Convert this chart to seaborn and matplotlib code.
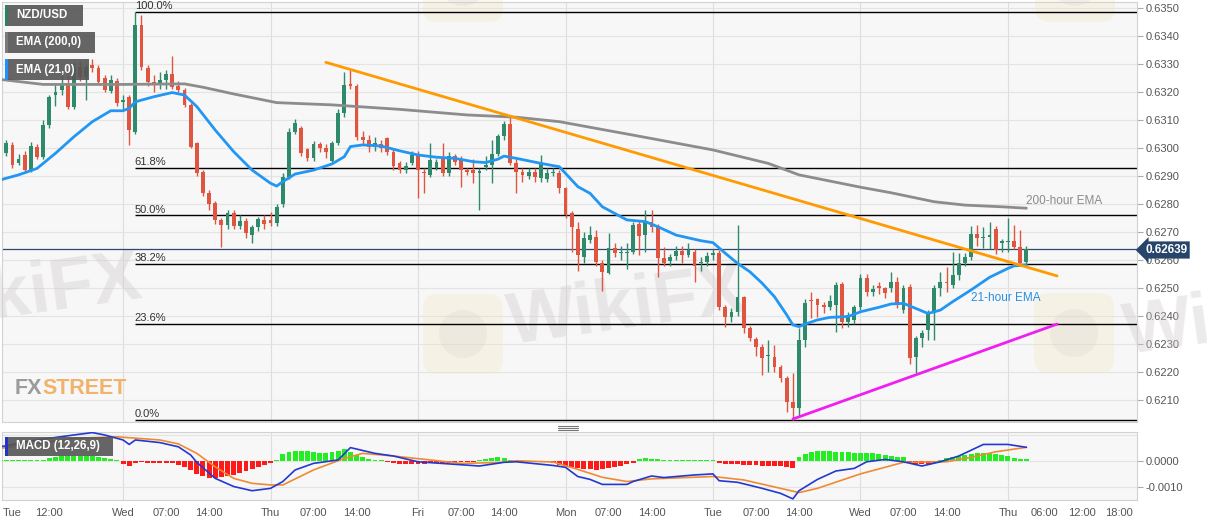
import numpy as np
import pandas as pd
import matplotlib
matplotlib.use("Agg")
import matplotlib.pyplot as plt
import matplotlib.transforms as mtransforms
from matplotlib.patches import Rectangle, FancyBboxPatch, Circle
from matplotlib.lines import Line2D
import seaborn as sns

sns.set_style("white")
plt.rcParams['font.family'] = ['Liberation Sans', 'DejaVu Sans']

W, H = 1207, 526

# prices are read as pips above 0.6200
BASE = 0.6200
PIP = 0.0001

# one bar per hour, 0 = Wed 00:00 (weekend removed)
hours = list(range(-20, 148))

opens = [96.9, 98.1, 101.1, 94.8, 97.5, 92.1, 100.5, 96.9, 108.2, 118.9,
         120.7, 123.1, 114.8, 129.0, 125.5, 129.6, 128.5, 124.9, 120.5, 123.9,
         116.5, 118.3, 105.8, 143.9, 128.5, 123.7, 123.1, 124.3, 126.4, 122.1,
         120.7, 115.4, 101.7, 91.5, 84.0, 80.2, 74.3, 72.5, 76.7, 72.1,
         74.0, 68.9, 71.9, 74.3, 74.3, 73.3, 80.0, 89.8, 105.8, 107.0,
         99.5, 96.3, 101.3, 99.9, 95.5, 101.9, 112.4, 122.9, 122.1, 104.0,
         102.9, 100.5, 101.4, 103.5, 98.7, 94.5, 92.1, 94.5, 97.5, 91.5,
         90.4, 92.7, 96.0, 91.2, 97.1, 96.0, 92.1, 92.1, 91.2, 93.3,
         93.9, 97.9, 104.3, 108.6, 94.8, 91.5, 90.0, 91.5, 89.2, 88.8,
         91.0, 91.2, 85.6, 76.7, 71.0, 61.2, 67.1, 68.1, 59.0, 55.5,
         64.2, 62.6, 62.4, 63.0, 72.9, 68.9, 73.7, 71.9, 60.6, 59.8,
         61.4, 63.3, 61.8, 63.0, 58.8, 59.4, 61.8, 62.6, 43.1, 39.8,
         41.5, 46.7, 35.6, 31.7, 29.0, 25.7, 25.5, 21.9, 17.7, 9.4,
         7.0, 31.4, 45.7, 46.0, 43.9, 43.3, 43.9, 51.4, 38.0, 38.6,
         43.1, 53.5, 48.7, 50.7, 49.9, 49.9, 52.3, 42.1, 50.5, 25.5,
         32.0, 35.0, 41.0, 49.9, 52.3, 51.1, 54.6, 58.8, 61.2, 69.3,
         67.9, 68.3, 71.0, 66.0, 66.5, 66.9, 64.8, 59.4]

highs = [102.5, 103.0, 102.0, 98.0, 99.0, 102.0, 101.5, 110.0, 119.0, 123.0,
         126.0, 126.0, 130.8, 131.0, 130.0, 131.7, 129.5, 126.0, 126.0, 125.0,
         119.0, 119.0, 148.7, 147.5, 129.5, 126.0, 127.0, 128.0, 132.9, 124.0,
         121.5, 116.0, 102.0, 92.0, 85.0, 81.0, 75.0, 78.0, 78.0, 76.0,
         75.0, 72.5, 75.5, 76.0, 77.0, 80.0, 91.0, 107.0, 110.5, 108.0,
         100.0, 102.5, 102.0, 101.5, 102.5, 114.0, 127.3, 127.9, 123.0, 106.0,
         104.5, 104.0, 103.0, 104.0, 100.0, 95.5, 95.0, 99.0, 99.0, 93.0,
         101.9, 96.0, 101.9, 98.5, 98.0, 97.0, 93.0, 96.0, 93.0, 97.0,
         102.9, 105.0, 109.5, 111.2, 96.0, 93.0, 93.0, 93.0, 97.5, 93.0,
         93.0, 92.0, 86.0, 77.5, 73.7, 70.0, 72.0, 70.7, 60.0, 69.8,
         66.0, 65.0, 66.0, 73.5, 74.0, 77.9, 77.9, 73.0, 64.8, 62.0,
         65.0, 65.0, 66.0, 64.0, 61.0, 63.0, 64.0, 63.5, 44.0, 43.0,
         72.5, 47.0, 36.5, 32.5, 30.0, 31.4, 29.6, 22.5, 18.5, 19.7,
         35.6, 46.0, 48.7, 46.5, 45.0, 47.5, 52.0, 52.0, 41.5, 44.0,
         55.0, 55.0, 51.0, 52.0, 50.5, 55.8, 54.0, 51.0, 51.5, 33.0,
         35.0, 42.1, 51.0, 55.8, 57.6, 63.0, 62.4, 62.5, 72.0, 72.5,
         71.9, 73.7, 72.0, 67.4, 74.9, 72.5, 70.7, 65.0]

lows = [96.0, 97.0, 93.0, 94.0, 91.0, 91.5, 96.0, 96.0, 107.0, 115.0,
        119.0, 114.0, 114.0, 124.0, 117.1, 127.0, 123.0, 120.0, 119.5, 115.0,
        114.0, 101.1, 105.0, 128.0, 122.0, 120.0, 121.0, 121.0, 121.0, 120.0,
        114.5, 100.0, 90.0, 83.0, 78.0, 73.0, 64.8, 71.0, 71.0, 71.0,
        68.0, 66.0, 70.5, 71.0, 72.0, 72.0, 79.0, 89.0, 105.0, 97.0,
        95.5, 95.5, 98.5, 96.5, 95.0, 101.0, 111.0, 121.0, 103.0, 101.5,
        98.5, 99.0, 98.5, 97.5, 92.0, 91.0, 91.0, 94.0, 82.0, 84.0,
        89.5, 92.0, 90.0, 90.0, 94.0, 86.2, 90.5, 87.6, 77.9, 92.0,
        87.4, 97.0, 103.0, 94.0, 84.0, 88.0, 89.0, 88.0, 88.0, 88.0,
        90.0, 84.0, 75.0, 63.0, 56.2, 59.0, 66.0, 58.0, 49.0, 55.0,
        61.0, 60.0, 56.7, 62.0, 61.8, 63.0, 70.0, 54.0, 58.0, 58.0,
        60.0, 59.0, 61.0, 52.3, 56.0, 58.0, 60.0, 42.0, 36.2, 38.0,
        40.0, 34.0, 31.0, 25.7, 18.9, 20.1, 20.0, 16.5, 5.8, 2.9,
        4.0, 29.0, 39.2, 39.8, 41.0, 42.0, 34.4, 35.6, 36.0, 37.0,
        42.0, 47.0, 47.0, 48.0, 46.5, 48.5, 42.7, 41.0, 22.9, 19.5,
        29.0, 31.4, 31.4, 47.0, 48.7, 50.0, 53.0, 58.0, 60.0, 65.0,
        64.2, 64.0, 62.0, 63.0, 63.0, 64.0, 58.0, 58.0]

closes = [101.7, 101.7, 93.9, 95.9, 92.1, 100.7, 96.9, 108.2, 118.3, 120.1,
          122.5, 114.8, 129.0, 125.5, 129.0, 128.5, 123.7, 120.7, 124.3, 116.0,
          117.0, 106.4, 143.9, 129.0, 123.7, 123.1, 124.3, 126.4, 121.9, 120.7,
          115.4, 100.5, 91.0, 84.0, 80.0, 74.3, 72.5, 76.7, 72.1, 74.0,
          69.5, 71.9, 74.5, 72.9, 73.3, 78.8, 89.8, 105.8, 108.8, 98.1,
          96.3, 101.4, 99.9, 98.7, 101.9, 112.4, 122.5, 122.1, 104.0, 102.9,
          100.5, 101.7, 99.9, 98.7, 93.4, 92.1, 93.5, 97.5, 92.1, 91.0,
          95.7, 95.1, 91.2, 97.1, 95.1, 92.1, 91.5, 91.0, 91.9, 93.9,
          97.9, 104.3, 108.6, 94.8, 91.5, 90.4, 91.5, 89.8, 94.5, 91.2,
          91.5, 85.6, 76.1, 71.9, 61.8, 67.7, 69.0, 59.4, 55.8, 64.2,
          62.6, 62.9, 63.0, 72.5, 68.6, 74.0, 71.9, 60.6, 59.0, 61.0,
          63.3, 61.8, 63.6, 57.9, 59.2, 61.4, 62.6, 43.1, 39.8, 41.5,
          46.7, 35.6, 32.0, 29.0, 24.9, 26.2, 21.9, 17.7, 9.4, 7.0,
          31.4, 44.8, 45.5, 43.9, 43.3, 45.5, 51.0, 38.0, 40.4, 43.1,
          53.5, 48.7, 49.5, 49.9, 48.1, 52.3, 43.9, 49.9, 24.9, 32.0,
          33.8, 41.0, 49.9, 52.3, 51.7, 54.6, 58.8, 61.2, 69.3, 67.7,
          68.1, 69.0, 63.6, 66.9, 66.9, 64.8, 58.8, 63.9]

# moving averages
ema21_hours = [-20, -17, -14, -11, -8, -5, -2, 0, 1, 2, 5, 8, 10, 12, 15, 18, 21, 24,
               25, 26, 28, 31, 34, 36, 37, 39, 42, 45, 48, 51, 54, 57, 59, 61, 62, 64,
               68, 71, 74, 76, 78, 82, 85, 87, 90, 94, 96, 98, 100, 102, 104, 106, 108,
               109, 110, 111, 113, 115, 118, 120, 123, 125, 127, 129, 131, 133, 135,
               138, 141, 144, 145, 147]
ema21_pips = [88.6, 90.4, 92.7, 98.1, 104.0, 109.4, 113.3, 113.3, 114.2, 116.5, 118.3,
              119.8, 118.9, 114.8, 106.4, 98.7, 92.1, 87.4, 86.4, 88.0, 90.7, 92.1, 94.3,
              96.9, 100.5, 101.1, 100.7, 99.0, 97.5, 96.7, 96.3, 95.1, 94.8, 96.0, 97.1,
              96.3, 94.5, 93.3, 86.2, 83.8, 79.0, 74.3, 73.7, 71.9, 68.9, 66.9, 66.2,
              62.4, 58.8, 55.8, 51.7, 46.9, 40.4, 36.8, 36.2, 37.1, 38.6, 39.5, 39.8,
              41.5, 43.1, 44.3, 44.5, 42.7, 40.9, 42.1, 45.1, 49.3, 53.8, 57.0, 57.9, 58.2]
ema200_hours = [-20, -13, 0, 10, 13, 18, 25, 34, 45, 56, 64, 71, 83, 96, 105, 110,
                120, 125, 132, 137, 143, 147]
ema200_pips = [124.5, 122.7, 122.7, 122.9, 121.7, 119.3, 116.2, 115.4, 113.8, 111.8,
               111.0, 109.4, 104.6, 99.3, 94.5, 90.4, 86.0, 84.0, 80.8, 79.6, 79.0, 78.5]

fib_names = ['100.0%', '61.8%', '50.0%', '38.2%', '23.6%', '0.0%']
fib_pips = [148.7, 93.0, 75.9, 58.6, 37.3, 2.9]
fib_start = 2

res_hours = [33, 152]
res_pips = [130.6, 54.3]
sup_hours = [109, 152]
sup_pips = [3.2, 37.1]
last_price = 0.62639

# MACD (12,26,9), in units of 0.0001
macd_hours = [-20, -14, -8, -5, -3, 0, 1, 2, 6, 9, 11, 12, 15, 18, 21, 24, 26, 28, 31,
              35, 37, 41, 44, 48, 53, 58, 62, 64, 70, 72, 74, 76, 78, 82, 83, 86, 88,
              93, 96, 97, 100, 104, 107, 109, 110, 113, 116, 119, 121, 124, 127, 130,
              133, 136, 140, 144, 147]
macd_vals = [5.4, 8.0, 9.9, 10.8, 9.9, 8.0, 6.3, 8.0, 7.0, 5.4, 2.3, -0.5, -6.6, -9.7,
             -11.3, -10.4, -7.8, -3.4, -0.9, 0.4, 5.1, 2.9, 1.9, -0.3, -1.1, -1.9, -0.5,
             -0.3, -1.7, -2.4, -5.9, -7.0, -8.9, -8.9, -7.8, -5.7, -6.3, -5.3, -4.9,
             -7.5, -8.1, -10.4, -12.3, -14.4, -11.3, -7.0, -3.8, -2.8, -0.3, 0.6, -0.3,
             -1.9, -0.3, 1.9, 6.3, 6.3, 5.2]
signal_hours = [-20, -8, -1, 6, 9, 12, 15, 18, 21, 24, 26, 31, 36, 39, 44, 50, 55, 61,
                64, 70, 74, 78, 82, 86, 96, 101, 110, 113, 120, 127, 134, 138, 142, 147]
signal_vals = [4.8, 8.6, 9.2, 8.0, 6.5, 2.9, -2.2, -6.6, -8.5, -9.1, -9.1, -3.4, 1.0,
               2.9, 1.9, 0.4, -0.9, -0.6, 0.1, -0.4, -3.2, -6.2, -7.8, -6.8, -5.9, -7.2,
               -12.0, -10.4, -4.9, -0.5, -0.3, 1.4, 3.5, 5.2]
hist_vals = [0.3, 0.3, 0.2, 0.2, 0.3, 0.3, 0.4, 0.5,
             1.2, 1.6, 1.8, 1.9, 1.9, 1.9, 1.8, 1.8, 1.6, 1.3,
             0.6, 0.3,
             -1.3, -2.0,
             -0.6, -0.5, -0.6, -0.6, -0.6, -0.7, -0.8,
             -1.5, -2.3, -3.5,
             -4.8, -5.8, -6.3, -6.4, -6.2, -5.8,
             -5.2, -4.6, -3.9, -3.2, -2.4, -1.6,
             -0.6, 0.5,
             2.5, 3.4, 3.8, 3.8, 3.7, 3.4, 3.1, 3.0, 3.3, 3.9, 4.4, 3.5,
             2.2, 1.6, 0.9, 0.5,
             0.2, -0.2,
             -0.8, -1.0, -1.2, -1.2, -1.1, -1.0, -0.9, -0.9, -0.8, -0.7, -0.6, -0.5, -0.4,
             -0.2, 0.2, 0.6, 1.0, 1.4, 1.1,
             0.3, -0.4, -0.5, -0.5, -0.5, -0.5, -0.5,
             -0.8, -1.4, -2.0, -2.4, -2.8, -3.0, -3.2, -3.3, -3.1, -2.8, -2.4, -1.8, -1.3, -0.6,
             0.6, 1.0, 0.9, 0.6,
             0.3, 0.3, 0.3, 0.3, 0.3, 0.3, 0.3, 0.3, 0.3,
             -0.9, -1.0, -1.0, -1.1, -1.4, -1.6, -1.7, -1.8, -1.9, -2.0, -2.0, -2.1, -2.5,
             1.5, 2.6, 3.3, 3.7, 3.8, 3.8, 3.6, 3.4, 3.3, 3.2, 3.2, 3.1, 2.9, 2.6, 2.3, 2.0, 1.7, 1.4,
             -0.6,
             -1.0, -1.1, -1.0, -0.6,
             0.5, 1.0, 1.5, 2.0, 2.4, 2.7, 2.9, 3.0, 2.9, 2.6, 2.2, 1.8, 1.2, 0.8, 0.6]

price_ticks = [0.6210, 0.6220, 0.6230, 0.6240, 0.6250, 0.6260, 0.6270,
               0.6280, 0.6290, 0.6300, 0.6310, 0.6320, 0.6330, 0.6340, 0.6350]
macd_ticks = [-0.0010, 0.0]
day_hours = [0, 24, 48, 72, 96, 120, 144]
time_ticks = [-19.6, -12, 0, 7, 14, 24, 31, 38, 48, 55, 62, 72, 79, 86,
              96, 103, 110, 120, 127, 134, 144, 150, 156, 162]
time_labels = ['Tue', '12:00', 'Wed', '07:00', '14:00', 'Thu', '07:00', '14:00',
               'Fri', '07:00', '14:00', 'Mon', '07:00', '14:00', 'Tue', '07:00',
               '14:00', 'Wed', '07:00', '14:00', 'Thu', '06:00', '12:00', '18:00']

bars = pd.DataFrame({'hour': hours, 'open': opens, 'high': highs,
                     'low': lows, 'close': closes, 'hist': hist_vals})
for col in ['open', 'high', 'low', 'close']:
    bars[col] = BASE + bars[col] * PIP

GREEN = '#2f8a6c'
RED = '#e0553f'
GRID = '#e4e4e4'
TXT = '#555555'

fig = plt.figure(figsize=(W / 100, H / 100), dpi=100)
fig.patch.set_facecolor('white')
# pixel coordinates, origin at top-left
PXT = mtransforms.Affine2D().scale(1 / W, -1 / H).translate(0, 1) + fig.transFigure

ax = fig.add_axes([2 / W, 1 - 422 / H, 1135 / W, 420 / H])
axm = fig.add_axes([2 / W, 1 - 500 / H, 1135 / W, 68 / H], sharex=ax)

for a in (ax, axm):
    a.set_facecolor('#f7f7f7')
    for s in a.spines.values():
        s.set_color('#d2d2d2')
        s.set_linewidth(0.8)
    for d in day_hours:
        a.axvline(d, color='#dddddd', lw=0.8, zorder=0.5)

ax.set_xlim(-19.7, 165)
ax.set_ylim(BASE + 2.14 * PIP, BASE + 152.14 * PIP)

# horizontal grid
for p in price_ticks:
    ax.axhline(p, color=GRID, lw=0.8, zorder=0.5)

# candles
up = bars['close'] >= bars['open']
ccol = np.where(up, GREEN, RED)
ax.vlines(bars['hour'], bars['low'], bars['high'], colors=ccol, lw=1.0, zorder=3)
body = np.maximum((bars['close'] - bars['open']).abs(), 0.00003)
ax.bar(bars['hour'], body, bottom=np.minimum(bars['open'], bars['close']),
       width=0.62, color=ccol, linewidth=0, zorder=4)

# moving averages
sns.lineplot(x=ema200_hours, y=BASE + np.array(ema200_pips) * PIP, ax=ax,
             color='#8c8c8c', lw=2, zorder=5)
sns.lineplot(x=ema21_hours, y=BASE + np.array(ema21_pips) * PIP, ax=ax,
             color='#2196f3', lw=2, zorder=6)

# fibonacci levels
for name, fp in zip(fib_names, fib_pips):
    p = BASE + fp * PIP
    ax.hlines(p, fib_start, 165, color='black', lw=1, zorder=2)
    ax.annotate(name, (fib_start, p), xytext=(-0.5, 0.5), textcoords='offset points',
                ha='left', va='bottom', fontsize=8, color='#333333', zorder=7)

# trend lines
sns.lineplot(x=res_hours, y=BASE + np.array(res_pips) * PIP, ax=ax,
             color='#ff9a00', lw=2, zorder=7)
sns.lineplot(x=sup_hours, y=BASE + np.array(sup_pips) * PIP, ax=ax,
             color='#f01ef0', lw=2, zorder=7)

# last price
ax.axhline(last_price, color='#2b4a6f', lw=0.9, zorder=2.5)
ax.text(1145, 250, f'{last_price:.5f}', transform=PXT, color='white', fontsize=8.5,
        fontweight='bold', ha='left', va='center', clip_on=False, zorder=12,
        bbox=dict(boxstyle='larrow,pad=0.22', fc='#27456a', ec='none'))

ax.text(1026, 201, '200-hour EMA', transform=PXT, color='#8a8a8a', fontsize=8.5,
        ha='left', va='center', zorder=8)
ax.text(971, 298, '21-hour EMA', transform=PXT, color='#2a8fe0', fontsize=8.5,
        ha='left', va='center', zorder=8)

# axes ticks main
ax.yaxis.tick_right()
ax.set_yticks(price_ticks)
ax.set_yticklabels([f'{p:.4f}' for p in price_ticks])
ax.tick_params(axis='y', direction='out', length=4, width=0.8, colors='#aaaaaa',
               labelcolor=TXT, labelsize=8, pad=2)
ax.tick_params(axis='x', length=0, labelbottom=False)
ax.set_xlabel('')
ax.set_ylabel('')

# MACD panel
hcol = np.where(bars['hist'] >= 0, '#22ee22', '#ff1a1a')
axm.bar(bars['hour'], bars['hist'] * PIP, width=0.8, color=hcol, linewidth=0, zorder=3)
sns.lineplot(x=signal_hours, y=np.array(signal_vals) * PIP, ax=axm,
             color='#f08a32', lw=1.2, zorder=4)
sns.lineplot(x=macd_hours, y=np.array(macd_vals) * PIP, ax=axm,
             color='#2338d0', lw=1.2, zorder=5)
for g in (-0.0010, 0.0, 0.0010):
    axm.axhline(g, color=GRID, lw=0.8, zorder=0.5)
axm.set_ylim(-14.83 * PIP, 11.03 * PIP)
axm.yaxis.tick_right()
axm.set_yticks(macd_ticks)
axm.set_yticklabels([f'{v:.4f}' for v in macd_ticks])
axm.tick_params(axis='y', direction='out', length=4, width=0.8, colors='#aaaaaa',
                labelcolor=TXT, labelsize=8, pad=2)
axm.set_xticks(time_ticks)
axm.set_xticklabels(time_labels)
axm.tick_params(axis='x', direction='out', length=4, width=0.8, colors='#aaaaaa',
                labelcolor=TXT, labelsize=8, pad=2)
axm.get_xticklabels()[0].set_ha('left')
axm.set_xlabel('')
axm.set_ylabel('')
axm.set_xlim(-19.7, 165)


def tag(target, x0, y0, w, h, text, stripe):
    target.add_patch(Rectangle((x0, y0), w, h, transform=PXT, facecolor='#555555',
                               alpha=0.9, edgecolor='none', zorder=10, clip_on=False))
    target.add_patch(Rectangle((x0, y0), 2.5, h, transform=PXT, facecolor=stripe,
                               edgecolor='none', zorder=11, clip_on=False))
    target.text(x0 + 11, y0 + h / 2, text, transform=PXT, color='white', fontsize=8.3,
                fontweight='bold', ha='left', va='center', zorder=12, clip_on=False)


tag(ax, 5, 5, 78, 21, 'NZD/USD', '#2f7f66')
tag(ax, 5, 32, 90, 21, 'EMA (200,0)', '#7a7a7a')
tag(ax, 5, 59, 84, 21, 'EMA (21,0)', '#1e90ff')
tag(axm, 5, 437, 108, 19, 'MACD (12,26,9)', '#2233cc')

# watermarks
for cx, cy in [(463, 334), (1074, 333), (463, -18), (1075, -18)]:
    ax.add_patch(FancyBboxPatch((cx - 36, cy - 36), 72, 72, boxstyle='round,pad=4,rounding_size=14',
                                transform=PXT, facecolor='#f3e3b0', edgecolor='none',
                                alpha=0.25, zorder=1, clip_on=False))
    ax.add_patch(Circle((cx, cy), 24, transform=PXT, facecolor='#cfc8c8', edgecolor='none',
                        alpha=0.18, zorder=1.1, clip_on=False))
for cx, cy in [(23, 295), (627, 308), (1243, 318)]:
    ax.text(cx, cy, 'WikiFX', transform=PXT, fontsize=52, fontweight='bold', color='#cfc9c9',
            alpha=0.38, rotation=8, ha='center', va='center', zorder=1.2, clip_on=False)
ax.text(15, 388, 'FX', transform=PXT, fontsize=15.5, fontweight='bold', color='#9b9b9b',
        ha='left', va='center', zorder=1.5)
ax.text(42, 388, 'STREET', transform=PXT, fontsize=15.5, fontweight='bold', color='#f1b36b',
        ha='left', va='center', zorder=1.5)

# panel splitter handle
for yy in (425.5, 427.5, 429.5):
    fig.add_artist(Line2D([558, 578], [yy, yy], transform=PXT, color='#777777', lw=0.8))

fig.savefig('out.png', dpi=100, facecolor='white')
